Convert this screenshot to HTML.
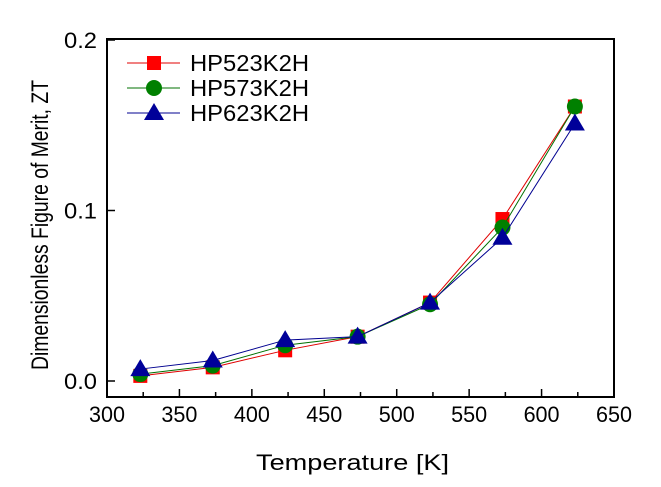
<!DOCTYPE html>
<html><head><meta charset="utf-8"><style>
html,body{margin:0;padding:0;background:#fff;}
svg text{font-family:"Liberation Sans",Arial,sans-serif;fill:#000;}
</style></head><body>
<svg id="chart" width="661" height="482" xmlns="http://www.w3.org/2000/svg">
<g id="axes"></g><g id="series"></g><g id="legend"></g>
</svg>
<script>
const temps=[323,373,423,473,523,573,623];
const zt523=[0.003,0.008,0.018,0.026,0.046,0.095,0.161];
const zt573=[0.004,0.009,0.021,0.026,0.045,0.090,0.161];
const zt623=[0.007,0.012,0.024,0.026,0.046,0.084,0.151];
const xTicks=[300,350,400,450,500,550,600,650];
const yTicks=[0.0,0.1,0.2];
const yTickLabels=["0.0","0.1","0.2"];
const seriesNames=["HP523K2H","HP573K2H","HP623K2H"];

const NS="http://www.w3.org/2000/svg";
const L=107,R=614,T=39,B=397;
const x=v=>L+(v-300)/350*(R-L);
const y=v=>381-v*1705;
function mk(tag,attrs,parent){const e=document.createElementNS(NS,tag);for(const k in attrs)e.setAttribute(k,attrs[k]);parent.appendChild(e);return e;}
const ax=document.getElementById('axes');
const frame=mk('rect',{x:L,y:T,width:R-L,height:B-T,fill:'none',stroke:'#000','stroke-width':2},ax);


xTicks.forEach((v,i)=>{
  const t=mk('line',{x1:x(v),x2:x(v),y1:B,y2:B-8,stroke:'#000','stroke-width':1.5},ax);
  
  
  if(i<xTicks.length-1){const m=mk('line',{x1:x(v+25),x2:x(v+25),y1:B,y2:B-5,stroke:'#000','stroke-width':1.5},ax);
  
  }
  const lb=mk('text',{x:x(v),y:B+25,'text-anchor':'middle','font-size':22,textLength:36,lengthAdjust:'spacingAndGlyphs'},ax);lb.textContent=v;
  
  
});
yTicks.forEach((v,i)=>{
  const t=mk('line',{x1:L,x2:L+8,y1:y(v),y2:y(v),stroke:'#000','stroke-width':1.5},ax);
  
  
  const lb=mk('text',{x:L-10,y:y(v)+8,'text-anchor':'end','font-size':22,textLength:33,lengthAdjust:'spacingAndGlyphs'},ax);lb.textContent=yTickLabels[i];
  
  
});
const xt=mk('text',{x:(L+R)/2-8,y:470,'text-anchor':'middle','font-size':22,textLength:193,lengthAdjust:'spacingAndGlyphs'},ax);xt.textContent="Temperature [K]";


const yt=mk('text',{x:0,y:0,'text-anchor':'middle','font-size':24,textLength:290,lengthAdjust:'spacingAndGlyphs',transform:'translate(48,225) rotate(-90)'},ax);yt.textContent="Dimensionless Figure of Merit, ZT";



const colors=['#e00000','#007000','#000090'];
const fills=['#ff0000','#008000','#000099'];
const shapes=['square','circle','triangle'];
const data=[zt523,zt573,zt623];
function marker(shape,cx,cy,fill,parent){
  if(shape==='square')return mk('rect',{x:cx-7,y:cy-7,width:14,height:14,fill},parent);
  if(shape==='circle')return mk('circle',{cx,cy,r:8,fill},parent);
  return mk('polygon',{points:`${cx},${cy-10} ${cx-10},${cy+7} ${cx+10},${cy+7}`,fill},parent);
}
const sg=document.getElementById('series');
data.forEach((d,s)=>{
  const g=mk('g',{},sg);
  
  
  const pts=d.map((v,i)=>x(temps[i])+','+y(v)).join(' ');
  const pl=mk('polyline',{points:pts,fill:'none',stroke:colors[s],'stroke-width':1},g);
  
  
  d.forEach((v,i)=>{const m=marker(shapes[s],x(temps[i]),y(v),fills[s],g);
    
    });
});
const lg=document.getElementById('legend');
seriesNames.forEach((n,s)=>{
  const cy=63+s*25;
  const g=mk('g',{},lg);
  
  
  mk('line',{x1:127,x2:180,y1:cy,y2:cy,stroke:colors[s],'stroke-width':1},g);
  marker(shapes[s],154,cy,fills[s],g);
  const t=mk('text',{x:190,y:cy+8,'font-size':23,textLength:119,lengthAdjust:'spacingAndGlyphs'},g);t.textContent=n;
});
</script>
</body></html>
